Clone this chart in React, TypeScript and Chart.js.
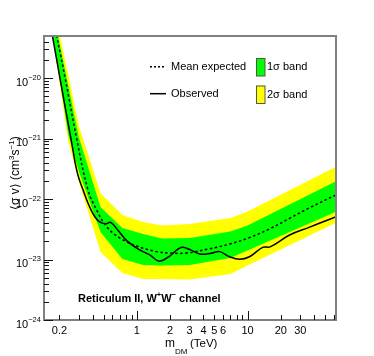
import React, { useEffect, useRef } from "react";
import { Chart, registerables } from "chart.js";

Chart.register(...registerables);

// ---- data ----
const MASS_OBS = [0.165, 0.202, 0.254, 0.29, 0.33, 0.37, 0.42, 0.47, 0.53, 0.58, 0.68, 0.81, 1.06, 1.31, 1.6, 1.98, 2.5, 3.0, 3.7, 4.7, 5.6, 6.9, 8.5, 10.4, 13.7, 16, 24, 36, 51, 65];
const OBSERVED = [8e-20, 1e-20, 1e-21, 2.7e-22, 1.35e-22, 7.8e-23, 5.0e-23, 4.1e-23, 3.9e-23, 4.1e-23, 3.0e-23, 2.05e-23, 1.44e-23, 1.19e-23, 9.4e-24, 1.14e-23, 1.58e-23, 1.46e-23, 1.23e-23, 1.27e-23, 1.35e-23, 1.11e-23, 1.01e-23, 1.11e-23, 1.59e-23, 1.62e-23, 2.54e-23, 3.4e-23, 4.38e-23, 5.2e-23];

const MASS_EXP = [0.17, 0.225, 0.286, 0.362, 0.433, 0.533, 0.703, 1.0, 1.5, 2.0, 2.8, 4.5, 6.9, 10.4, 15.8, 24, 36, 65];
const EXPECTED = [1.3e-19, 1.0e-20, 1.0e-21, 1.41e-22, 6.6e-23, 3.5e-23, 2.26e-23, 1.67e-23, 1.35e-23, 1.28e-23, 1.28e-23, 1.5e-23, 1.8e-23, 2.3e-23, 3.2e-23, 4.8e-23, 7.1e-23, 1.2e-22];

const BAND_MASS = [0.14, 0.24, 0.3, 0.47, 0.74, 1.14, 1.7, 3, 7, 10, 65];
const SIGMA2_UP = [1.2e-18, 1.14e-20, 1.61e-21, 1.24e-22, 5.45e-23, 4.17e-23, 3.65e-23, 3.86e-23, 4.85e-23, 6.21e-23, 3.51e-22];
const SIGMA1_UP = [9.0e-19, 7.57e-21, 1.04e-21, 7.38e-23, 3.32e-23, 2.64e-23, 2.22e-23, 2.26e-23, 2.9e-23, 3.65e-23, 2.02e-22];
const SIGMA1_DOWN = [7.1e-19, 1.17e-21, 2.81e-22, 2.85e-23, 1.02e-23, 8.11e-24, 7.96e-24, 8.11e-24, 1.06e-23, 1.41e-23, 6.34e-23];
const SIGMA2_DOWN = [6.73e-19, 9.1e-22, 1.91e-22, 1.33e-23, 5.98e-24, 4.77e-24, 4.77e-24, 4.67e-24, 5.75e-24, 7.96e-24, 4.17e-23];

const X_LABELS = [0.2, 1, 2, 3, 4, 5, 6, 10, 20, 30];
const Y_EXPONENTS = [-24, -23, -22, -21, -20];

const X_MIN = 0.145;
const X_MAX = 63;
const Y_MIN = 1e-24;
const Y_MAX = 4.95e-20;

const FONT = '"Liberation Sans", Arial, Helvetica, sans-serif';
const GREEN = "#00ff00";
const YELLOW = "#ffff00";

function pts(xs: number[], ys: number[]) {
  return xs.map((x, i) => ({ x, y: ys[i] }));
}

function drawPieces(
  ctx: CanvasRenderingContext2D,
  x: number,
  y: number,
  pieces: { t: string; size: number; dy: number; bold?: boolean; gap?: number }[]
) {
  let cx = x;
  for (const p of pieces) {
    cx += p.gap || 0;
    ctx.font = `${p.bold ? "bold " : ""}${p.size}px ${FONT}`;
    ctx.fillText(p.t, cx, y + p.dy);
    cx += ctx.measureText(p.t).width;
  }
  return cx;
}

const decorPlugin = {
  id: "decor",
  afterDraw(chart: any) {
    const { ctx, chartArea: a, scales } = chart;
    const xs = scales.x;
    const ys = scales.y;
    ctx.save();

    // frame
    ctx.strokeStyle = "#808080";
    ctx.lineWidth = 2;
    ctx.strokeRect(a.left, a.top, a.right - a.left, a.bottom - a.top);

    // ticks
    ctx.strokeStyle = "#111";
    ctx.lineWidth = 1;
    ctx.beginPath();
    for (let d = -1; d <= 1; d++) {
      for (let k = 1; k <= 9; k++) {
        const v = k * Math.pow(10, d);
        if (v < X_MIN || v > X_MAX) continue;
        const px = Math.round(xs.getPixelForValue(v)) + 0.5;
        const len = k === 1 ? 9 : 5;
        ctx.moveTo(px, a.bottom);
        ctx.lineTo(px, a.bottom - len);
      }
    }
    for (let d = -24; d <= -20; d++) {
      for (let k = 1; k <= 9; k++) {
        const v = k * Math.pow(10, d);
        if (v < Y_MIN * 0.999 || v > Y_MAX) continue;
        const py = Math.round(ys.getPixelForValue(v)) + 0.5;
        const len = k === 1 ? 9 : 5;
        ctx.moveTo(a.left, py);
        ctx.lineTo(a.left + len, py);
      }
    }
    ctx.stroke();

    // x labels
    ctx.fillStyle = "#000";
    ctx.font = `11px ${FONT}`;
    ctx.textAlign = "center";
    ctx.textBaseline = "alphabetic";
    for (const v of X_LABELS) {
      const px = xs.getPixelForValue(v);
      ctx.fillText(String(v), px, a.bottom + 14);
    }

    // y labels  10^{exp}
    ctx.textAlign = "left";
    for (const e of Y_EXPONENTS) {
      const py = ys.getPixelForValue(Math.pow(10, e));
      drawPieces(ctx, 16, py + 7.5, [
        { t: "10", size: 11, dy: 0 },
        { t: "\u2212" + String(-e), size: 7.5, dy: -6 },
      ]);
    }

    // x title
    drawPieces(ctx, 165, 347, [
      { t: "m", size: 12, dy: 0 },
      { t: "DM", size: 8, dy: 6.5 },
      { t: "(TeV)", size: 11.5, dy: 0, gap: 2.5 },
    ]);

    // y title (rotated)
    ctx.save();
    ctx.translate(18.5, 210);
    ctx.rotate(-Math.PI / 2);
    drawPieces(ctx, 0, 0, [
      { t: "\u27E8\u03C3 v\u27E9 (cm", size: 12, dy: 0 },
      { t: "3", size: 8, dy: -5 },
      { t: "s", size: 12, dy: 0 },
      { t: "\u22121", size: 8, dy: -5 },
      { t: ")", size: 12, dy: 0 },
    ]);
    ctx.restore();

    // channel label
    drawPieces(ctx, 78, 301.5, [
      { t: "Reticulum II, W", size: 11, dy: 0, bold: true },
      { t: "+", size: 7.5, dy: -5, bold: true },
      { t: "W", size: 11, dy: 0, bold: true },
      { t: "\u2212", size: 7.5, dy: -5, bold: true },
      { t: " channel", size: 11, dy: 0, bold: true },
    ]);

    // legend
    ctx.font = `11px ${FONT}`;
    ctx.textBaseline = "middle";
    ctx.strokeStyle = "#000";
    ctx.lineWidth = 1.5;
    ctx.setLineDash([2, 2]);
    ctx.beginPath();
    ctx.moveTo(150, 66.7);
    ctx.lineTo(166, 66.7);
    ctx.stroke();
    ctx.setLineDash([]);
    ctx.beginPath();
    ctx.moveTo(150, 93.7);
    ctx.lineTo(166, 93.7);
    ctx.stroke();
    ctx.fillStyle = "#000";
    ctx.fillText("Mean expected", 171, 67);
    ctx.fillText("Observed", 171, 94);

    ctx.lineWidth = 1;
    ctx.strokeStyle = "#555";
    ctx.fillStyle = GREEN;
    ctx.fillRect(256, 58, 9, 18);
    ctx.strokeRect(256.5, 58.5, 8.5, 17.5);
    ctx.fillStyle = YELLOW;
    ctx.fillRect(256, 85.5, 9, 18);
    ctx.strokeRect(256.5, 86, 8.5, 17.5);
    ctx.fillStyle = "#000";
    ctx.font = `11px ${FONT}`;
    ctx.fillText("1\u03C3 band", 267, 67);
    ctx.fillText("2\u03C3 band", 267, 94.5);

    ctx.restore();
  },
};

export default function App() {
  const ref = useRef<HTMLCanvasElement | null>(null);

  useEffect(() => {
    if (!ref.current) return;
    const clear = "rgba(0,0,0,0)";
    const chart = new Chart(ref.current, {
      type: "line",
      data: {
        datasets: [
          {
            label: "Observed",
            data: pts(MASS_OBS, OBSERVED),
            borderColor: "#000",
            borderWidth: 1.5,
            pointRadius: 0,
            tension: 0.4,
            fill: false,
          },
          {
            label: "Mean expected",
            data: pts(MASS_EXP, EXPECTED),
            borderColor: "#000",
            borderWidth: 1.5,
            borderDash: [2.5, 2.5],
            pointRadius: 0,
            tension: 0.4,
            fill: false,
          },
          {
            label: "1σ up",
            data: pts(BAND_MASS, SIGMA1_UP),
            borderColor: clear,
            borderWidth: 0,
            backgroundColor: GREEN,
            pointRadius: 0,
            tension: 0,
            fill: { target: 3 },
          },
          {
            label: "1σ down",
            data: pts(BAND_MASS, SIGMA1_DOWN),
            borderColor: clear,
            borderWidth: 0,
            pointRadius: 0,
            tension: 0,
            fill: false,
          },
          {
            label: "2σ up",
            data: pts(BAND_MASS, SIGMA2_UP),
            borderColor: clear,
            borderWidth: 0,
            backgroundColor: YELLOW,
            pointRadius: 0,
            tension: 0,
            fill: { target: 5 },
          },
          {
            label: "2σ down",
            data: pts(BAND_MASS, SIGMA2_DOWN),
            borderColor: clear,
            borderWidth: 0,
            pointRadius: 0,
            tension: 0,
            fill: false,
          },
        ],
      },
      options: {
        responsive: false,
        animation: false,
        layout: { padding: { left: 44, right: 38, top: 36, bottom: 36 } },
        scales: {
          x: { type: "logarithmic", min: X_MIN, max: X_MAX, display: false },
          y: { type: "logarithmic", min: Y_MIN, max: Y_MAX, display: false },
        },
        plugins: {
          legend: { display: false },
          tooltip: { enabled: false },
        },
        events: [],
      },
      plugins: [decorPlugin],
    } as any);
    return () => chart.destroy();
  }, []);

  return (
    <div style={{ position: "absolute", left: 0, top: 0, width: 374, height: 356, background: "#fff" }}>
      <canvas ref={ref} width={374} height={356} style={{ width: 374, height: 356, display: "block" }} />
    </div>
  );
}
